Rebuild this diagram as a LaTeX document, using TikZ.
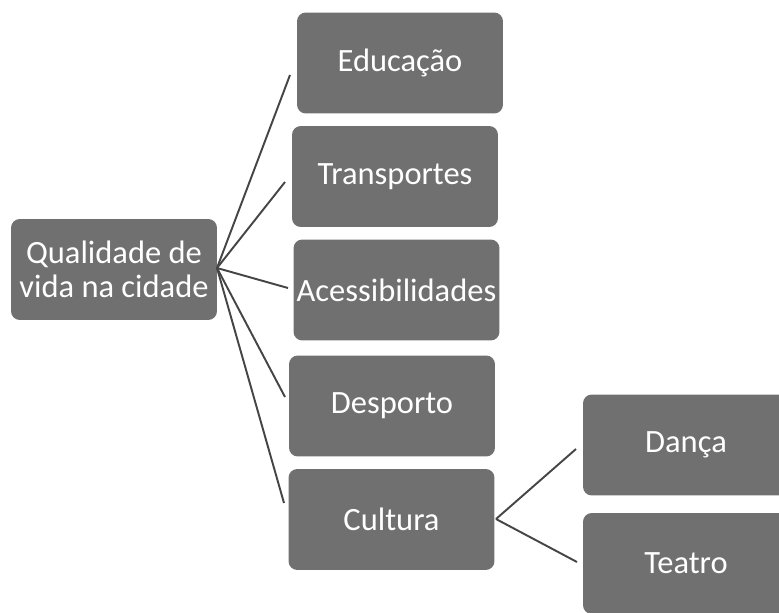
\documentclass[tikz,border=0pt]{standalone}
\usepackage{fontspec}
\setmainfont{Carlito}
\usepackage{tikz}
\usetikzlibrary{positioning}

\definecolor{boxgray}{HTML}{707070}
\definecolor{linegray}{HTML}{454545}

\begin{document}
\begin{tikzpicture}[
    x=0.02cm, y=-0.02cm,
    item/.style={rectangle, fill=boxgray, text=white, minimum width=4.12cm, minimum height=2.02cm, inner sep=0pt, align=center, rounded corners=5pt, font=\fontsize{18.5}{19.5}\selectfont},
    link/.style={draw=linegray, line width=1.1pt},
]
\useasboundingbox (0,0) rectangle (779,613);
% Root
\node[item] (root) at (114,269.5) {Qualidade de\\vida na cidade};
% First level
\node[item] (edu) at (400,63) {Educação};
\node[item] (trans) at (395,176.5) {Transportes};
\node[item] (acess) at (396.5,290) {Acessibilidades};
\node[item] (desp) at (392,406) {Desporto};
\node[item] (cult) at (391.5,519.5) {Cultura};
% Second level
\node[item] (danca) at (686,445) {Dança};
\node[item] (teatro) at (686,563.5) {Teatro};

% Line ends
\coordinate (hub) at (217,268);
\coordinate (eduin) at (290,75);
\coordinate (transin) at (285,182);
\coordinate (acessin) at (288,288);
\coordinate (despin) at (285,397);
\coordinate (cultin) at (284,503);
\coordinate (cultout) at (496,519);
\coordinate (dancain) at (576,449);
\coordinate (teatroin) at (577,562);

% Lines
\draw[link] (hub) -- (eduin);
\draw[link] (hub) -- (transin);
\draw[link] (hub) -- (acessin);
\draw[link] (hub) -- (despin);
\draw[link] (hub) -- (cultin);
\draw[link] (cultout) -- (dancain);
\draw[link] (cultout) -- (teatroin);
\end{tikzpicture}
\end{document}
